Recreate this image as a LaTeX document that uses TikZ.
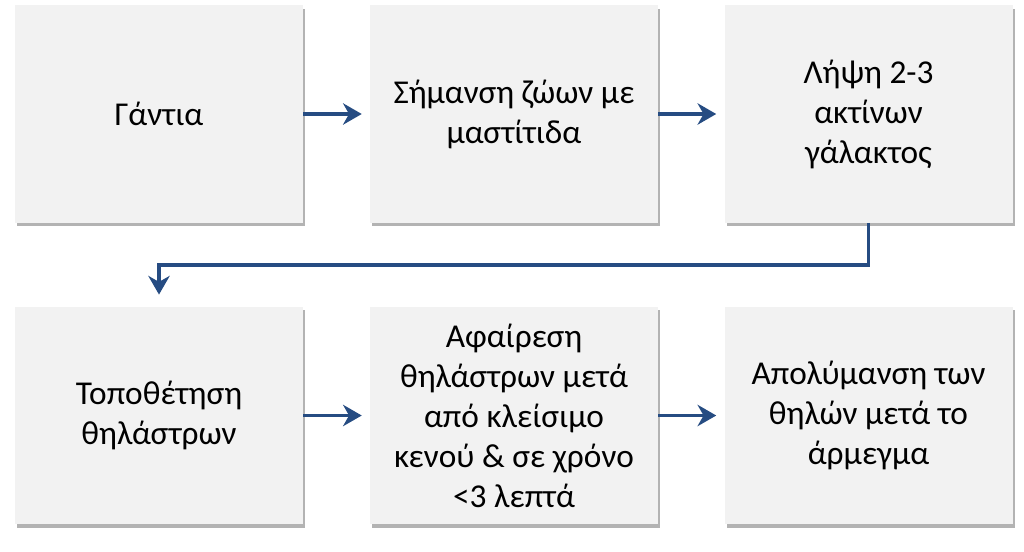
\documentclass[tikz,border=0pt]{standalone}
\usepackage{fontspec}
\setmainfont{Carlito}
\usetikzlibrary{positioning,shadows,arrows.meta}
\definecolor{flowblue}{RGB}{38,76,130}
\definecolor{boxgray}{RGB}{242,242,242}

\begin{document}
\begin{tikzpicture}[x=0.75pt,y=-0.75pt,
    stepbox/.style={fill=boxgray, minimum width=216pt, minimum height=163pt, inner sep=0pt,
        align=center, font=\fontsize{25pt}{30pt}\selectfont,
        drop shadow={shadow xshift=1.5pt, shadow yshift=-2.5pt, opacity=0.6, fill=gray}},
    flow/.style={flowblue, line width=2.4pt, -{Stealth[length=14pt, width=16pt, inset=4.5pt]}, shorten >=6pt}]
    % Frame
    \useasboundingbox (0,0) rectangle (1024,551);

    % First row
    \node[stepbox] (gloves) at (159,114) {Γάντια};
    \node[stepbox] (mark) at (514,114) {Σήμανση ζώων με\\μαστίτιδα};
    \node[stepbox] (strip) at (868.5,114) {Λήψη 2-3\\ακτίνων\\γάλακτος};

    % Second row
    \node[stepbox] (attach) at (159,415.5) {Τοποθέτηση\\θηλάστρων};
    \node[stepbox] (remove) at (514,415.5) {Αφαίρεση\\θηλάστρων μετά\\από κλείσιμο\\κενού \& σε χρόνο\\<3 λεπτά};
    \node[stepbox] (dip) at (868.5,415.5) {Απολύμανση των\\θηλών μετά το\\άρμεγμα};

    % Arrows
    \draw[flow] (gloves) -- (mark);
    \draw[flow] (mark) -- (strip);
    \draw[flow, shorten >=9pt] (strip.south) -- ++(0,42) -| (attach.north);
    \draw[flow] (attach) -- (remove);
    \draw[flow] (remove) -- (dip);
\end{tikzpicture}
\end{document}
